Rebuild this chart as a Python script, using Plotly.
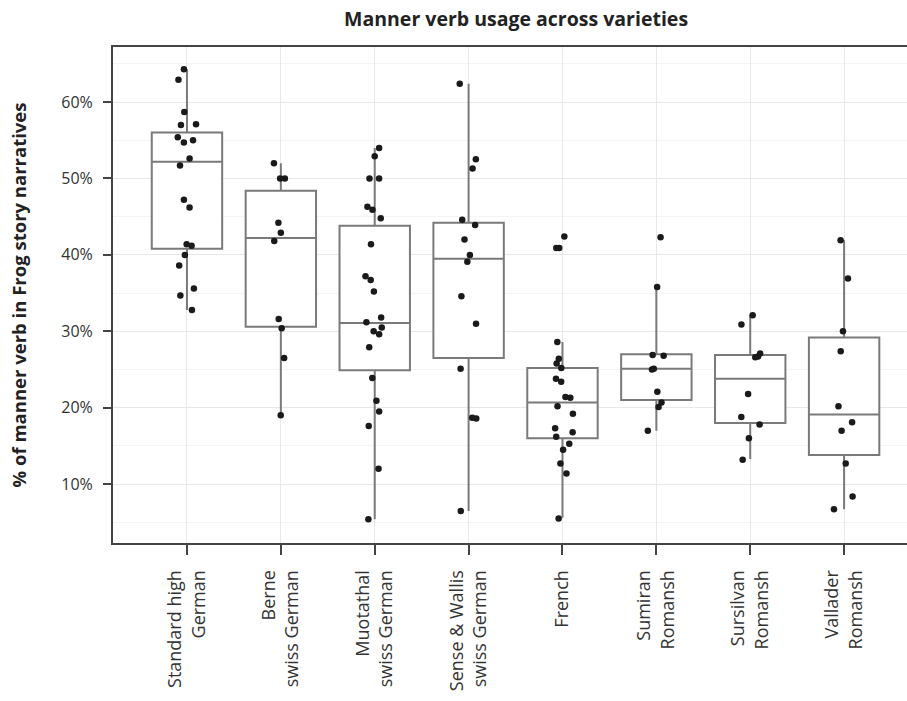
import plotly.graph_objects as go

categories = ["Standard high<br>German", "Berne<br>swiss German", "Muotathal<br>swiss German",
              "Sense & Wallis<br>swiss German", "French", "Sumiran<br>Romansh",
              "Sursilvan<br>Romansh", "Vallader<br>Romansh"]

# individual narratives (% manner verbs)
std_german = [64.3, 62.9, 58.7, 57.1, 57.0, 55.4, 55.0, 54.7, 52.6, 51.7, 47.2, 46.2,
              41.4, 41.2, 40.0, 38.6, 35.6, 34.7, 32.8]
berne = [52.0, 50.0, 50.0, 44.2, 42.9, 41.8, 31.6, 30.4, 26.5, 19.0]
muotathal = [54.0, 52.9, 50.0, 50.0, 46.3, 45.9, 44.8, 41.4, 37.2, 36.7, 35.2, 31.8,
             31.2, 30.5, 30.0, 29.6, 27.9, 23.9, 20.9, 19.5, 17.6, 12.0, 5.4]
sense_wallis = [62.4, 52.5, 51.3, 44.6, 43.9, 42.0, 40.0, 39.1, 34.6, 31.0, 25.1,
                18.7, 18.6, 6.5]
french = [42.4, 40.9, 40.9, 28.6, 26.4, 25.8, 25.2, 23.8, 23.4, 21.4, 21.3, 20.2,
          19.2, 17.3, 16.8, 16.2, 15.3, 14.5, 12.7, 11.4, 5.5]
sumiran = [42.3, 35.8, 26.9, 26.8, 25.1, 25.0, 22.1, 20.7, 20.1, 17.0]
sursilvan = [32.1, 30.9, 27.1, 26.7, 26.6, 21.8, 18.8, 17.8, 16.0, 13.2]
vallader = [41.9, 36.9, 30.0, 27.4, 20.2, 18.1, 17.0, 12.7, 8.4, 6.7]

series = [std_german, berne, muotathal, sense_wallis, french, sumiran, sursilvan, vallader]

# box statistics as drawn in the picture
q1 = [40.8, 30.6, 24.9, 26.5, 16.0, 21.0, 18.0, 13.8]
median = [52.2, 42.2, 31.1, 39.5, 20.7, 25.1, 23.8, 19.1]
q3 = [56.0, 48.4, 43.8, 44.2, 25.2, 27.0, 26.9, 29.2]
lower = [32.8, 19.0, 5.4, 6.5, 5.6, 17.0, 13.3, 6.7]
upper = [64.3, 52.0, 54.0, 62.4, 28.6, 35.8, 32.1, 41.9]

y_ticks = [10, 20, 30, 40, 50, 60]
y_tick_labels = ["10%", "20%", "30%", "40%", "50%", "60%"]

fig = go.Figure()

fig.add_trace(go.Box(
    x=categories, q1=q1, median=median, q3=q3,
    lowerfence=lower, upperfence=upper,
    fillcolor="white", line=dict(color="#7a7a7a", width=2),
    whiskerwidth=0, boxpoints=False, showlegend=False, hoverinfo="skip"))

px, py = [], []
for c, vals in zip(categories, series):
    px += [c] * len(vals)
    py += vals

fig.add_trace(go.Box(
    x=px, y=py, boxpoints="all", jitter=0.3, pointpos=0,
    fillcolor="rgba(0,0,0,0)", line=dict(color="rgba(0,0,0,0)", width=0),
    marker=dict(color="#1a1a1a", size=6.5), showlegend=False))

fig.update_layout(
    width=907, height=701,
    paper_bgcolor="white", plot_bgcolor="white",
    margin=dict(l=113, r=0, t=47, b=158),
    boxmode="overlay", boxgap=0.25, boxgroupgap=0,
    title=dict(text="<b>Manner verb usage across varieties</b>", x=0.569, xanchor="center",
               y=0.972, yanchor="middle",
               font=dict(family="Open Sans", size=19.5, color="#222")),
    font=dict(family="Open Sans", color="#333"),
)

fig.update_xaxes(
    type="category", range=[-0.788, 7.67], tickangle=-90,
    tickfont=dict(size=18, family="Open Sans", color="#333"), ticklabelstandoff=8,
    showgrid=True, gridcolor="#e8e8e8", gridwidth=1,
    showline=True, linecolor="#444", linewidth=2, mirror=True,
    ticks="outside", ticklen=10, tickwidth=2, tickcolor="#444")

fig.update_yaxes(
    range=[2.3, 67.2], tickvals=y_ticks, ticktext=y_tick_labels,
    tickfont=dict(size=16, family="Open Sans", color="#333"), ticklabelstandoff=7,
    showgrid=True, gridcolor="#e8e8e8", gridwidth=1, zeroline=False,
    minor=dict(dtick=5, tick0=5, showgrid=True, gridcolor="#f4f4f4", gridwidth=1, ticklen=0),
    showline=True, linecolor="#444", linewidth=2, mirror=False,
    ticks="outside", ticklen=8, tickwidth=2, tickcolor="#444",
    title=dict(text="<b>% of manner verb in Frog story narratives</b>",
               font=dict(family="Open Sans", size=18.5, color="#222"), standoff=30))

fig.write_html("out.html")
